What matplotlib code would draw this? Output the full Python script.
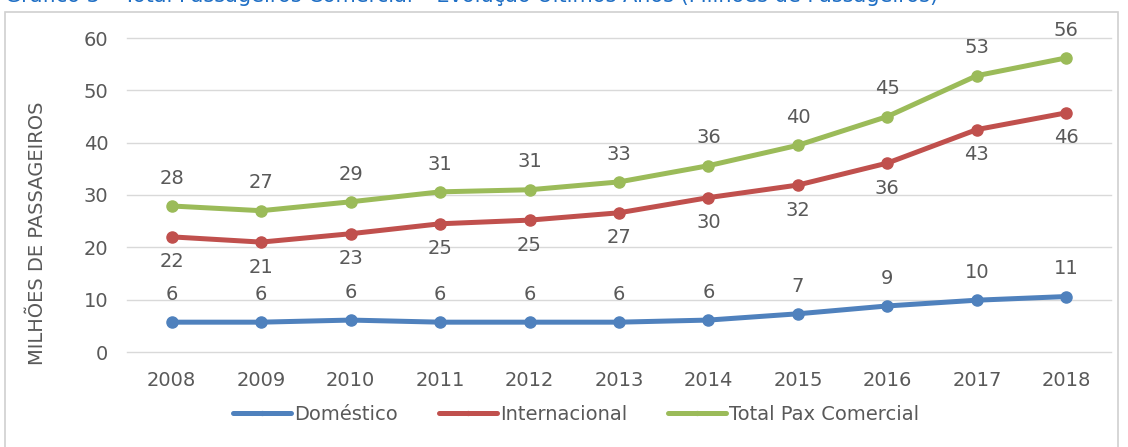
import matplotlib
matplotlib.use("Agg")
import matplotlib.pyplot as plt
from matplotlib.patches import Rectangle

years = [2008, 2009, 2010, 2011, 2012, 2013, 2014, 2015, 2016, 2017, 2018]
domestico = [5.7, 5.7, 6.1, 5.7, 5.7, 5.7, 6.1, 7.3, 8.8, 9.9, 10.6]
internacional = [22.0, 21.0, 22.6, 24.5, 25.2, 26.6, 29.5, 31.9, 36.1, 42.5, 45.7]
total = [27.9, 27.0, 28.7, 30.6, 31.0, 32.5, 35.6, 39.5, 45.0, 52.8, 56.2]
series_names = ["Doméstico", "Internacional", "Total Pax Comercial"]
title = "Gráfico 3 – Total Passageiros Comercial – Evolução Últimos Anos (Milhões de Passageiros)"

colors = ["#4F81BD", "#C0504D", "#9BBB59"]
text_color = "#595959"

plt.rcParams['font.family'] = ['DejaVu Sans']

fig = plt.figure(figsize=(11.28, 4.47), dpi=100)
ax = fig.add_axes([127 / 1128, (447 - 352) / 447, (1111 - 127) / 1128, (352 - 38) / 447])

x = list(range(len(years)))
data = [domestico, internacional, total]
offsets = [20, -18, 20]
for vals, c, name, off in zip(data, colors, series_names, offsets):
    ax.plot(x, vals, color=c, lw=3.6, marker='o', ms=8, label=name,
            solid_capstyle='round', zorder=3)
    for xi, v in zip(x, vals):
        ax.annotate(f"{int(v + 0.5)}", (xi, v), xytext=(0, off), textcoords='offset points',
                    ha='center', va='center', fontsize=14, color=text_color)

ax.set_xlim(-0.5, len(years) - 0.5)
ax.set_ylim(0, 60)
ax.set_yticks(range(0, 61, 10))
ax.set_xticks(x)
ax.set_xticklabels([str(y) for y in years])
ax.tick_params(axis='both', length=0, labelsize=14, colors=text_color)
ax.tick_params(axis='y', pad=13.5)
ax.tick_params(axis='x', pad=14)
ax.grid(axis='y', color='#D9D9D9', lw=1)
ax.set_axisbelow(True)
for gl in ax.get_ygridlines():
    gl.set_clip_on(False)
for s in ax.spines.values():
    s.set_visible(False)
ax.set_ylabel("MILHÕES DE PASSAGEIROS", fontsize=14, color=text_color)
ax.yaxis.set_label_coords((47 - 127) / 984, (352 - 233) / 314)

leg = fig.legend(loc='center', bbox_to_anchor=(576 / 1128, 1 - 414 / 447), ncol=3,
                 frameon=False, fontsize=14, handlelength=3.0, columnspacing=2.1,
                 handletextpad=0.15, markerscale=0.35)
for t in leg.get_texts():
    t.set_color(text_color)

fig.patches.append(Rectangle((5 / 1128, -0.01), (1118 - 5) / 1128, 1 - 12 / 447 + 0.01,
                             transform=fig.transFigure, fill=False, edgecolor='#D0D0D0',
                             lw=1.2))
fig.text(5 / 1128, 1 - 2 / 447, title, ha='left', va='baseline', fontsize=15,
         color='#1F6FC5')

fig.savefig("out.png", dpi=100)
